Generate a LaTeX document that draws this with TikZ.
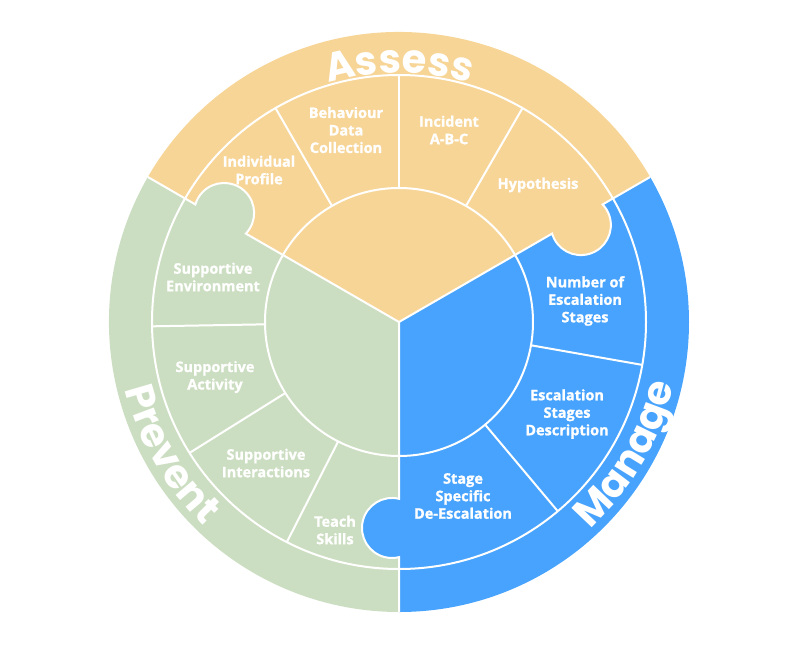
\documentclass[tikz,border=0pt]{standalone}
\usepackage{fontspec}
\setmainfont{Open Sans}[BoldFeatures={FakeBold=1.2}]
\newfontfamily\headfont{Poppins}
\usetikzlibrary{calc,decorations.text}
\definecolor{assesscol}{HTML}{F7D597}
\definecolor{preventcol}{HTML}{CCDEC1}
\definecolor{managecol}{HTML}{47A3FD}
\tikzset{
  sep/.style={draw=white, line width=2pt},
  lbl/.style={text=white, align=center, inner sep=0pt, font=\bfseries\fontsize{14.5}{17.5}\selectfont},
  ringtxt/.style={decorate, decoration={text along path, text align=center, text color=white,
    text={|\headfont\bfseries\fontsize{40}{40}\selectfont|#1}}},
}
\begin{document}
\begin{tikzpicture}

\useasboundingbox (-399pt,-327pt) rectangle (401pt,322pt);

% Sectors
\fill[assesscol] (0,0) -- (30:290pt) arc[start angle=30, end angle=150, radius=290pt] -- cycle;
\fill[preventcol] (0,0) -- (150:290pt) arc[start angle=150, end angle=270, radius=290pt] -- cycle;
\fill[managecol] (0,0) -- (270:290pt) arc[start angle=270, end angle=390, radius=290pt] -- cycle;

% Puzzle tabs
\foreach \a/\c in {150/preventcol, 30/assesscol, 270/managecol}
  \fill[\c] ($(\a:206pt)+(\a-90:7pt)$) circle (30pt);

% Rings and dividers
\draw[sep] (0,0) circle (247pt) (0,0) circle (134pt);
\foreach \a in {60,90,120,181,212,243,-10,-50}
  \draw[sep] (\a:134pt) -- (\a:247pt);
\foreach \a in {30,150,270}
  \draw[sep] (0,0) -- (\a:176.8pt)
    arc[start angle=\a-193.5, end angle=\a+13.5, radius=30pt] -- (\a:290pt);

% Ring labels
\path[ringtxt=Assess] (150:249pt) arc[start angle=150, end angle=30, radius=249pt];
\path[ringtxt=Prevent] (150:282pt) arc[start angle=150, end angle=270, radius=282pt];
\path[ringtxt=Manage] (-90:282pt) arc[start angle=-90, end angle=30, radius=282pt];

% Segment labels
\node[lbl] (profile) at (-140pt,152pt) {Individual\\Profile};
\node[lbl] (datacoll) at (-53pt,192pt) {Behaviour\\Data\\Collection};
\node[lbl] (incident) at (50pt,192pt) {Incident\\A-B-C};
\node[lbl] (hypo) at (139pt,137pt) {Hypothesis};
\node[lbl] (environ) at (-186pt,45pt) {Supportive\\Environment};
\node[lbl] (activity) at (-184pt,-55pt) {Supportive\\Activity};
\node[lbl] (interact) at (-133pt,-141pt) {Supportive\\Interactions};
\node[lbl] (skills) at (-64pt,-208pt) {Teach\\Skills};
\node[lbl] (nstages) at (186pt,21pt) {Number of\\Escalation\\Stages};
\node[lbl] (stagesdesc) at (168pt,-92pt) {Escalation\\Stages\\Description};
\node[lbl] (deesc) at (64pt,-174pt) {Stage\\Specific\\De-Escalation};

\end{tikzpicture}
\end{document}
